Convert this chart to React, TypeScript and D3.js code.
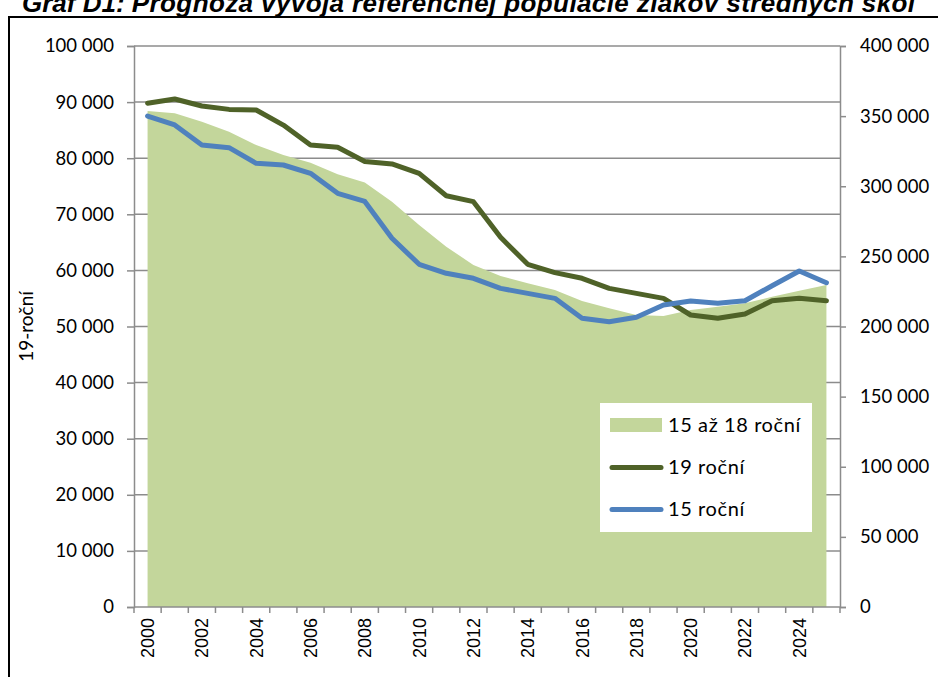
import * as d3 from 'd3';
import { useEffect, useRef } from 'react';

const years = d3.range(2000, 2026).map(String);

// 19-ročné (left axis)
const age19 = [
    89800, 90550, 89300, 88700, 88600, 85900, 82350, 81950, 79400, 78970,
    77300, 73300, 72250, 65900, 61090, 59600, 58590, 56800, 55900, 55020,
    52050, 51460, 52230, 54600, 55020, 54600,
];

// 15-ročné (left axis)
const age15 = [
    87520, 85920, 82350, 81870, 79080, 78790, 77300, 73740, 72300, 65720,
    61090, 59480, 58590, 56800, 55900, 55020, 51460, 50860, 51640, 53830,
    54550, 54130, 54600, 57270, 59890, 57800,
];

// 15 až 18-ročné (right axis)
const age15to18 = [
    353650, 352000, 346000, 338900, 329400, 322300, 316800, 308500, 302700, 289000,
    272400, 256900, 243850, 236000, 230800, 226000, 218200, 213000, 208200, 207500,
    211800, 214100, 216500, 221300, 225500, 229600,
];

const leftTicks = d3.range(0, 100001, 10000);
const rightTicks = d3.range(0, 400001, 50000);
const labelYears = years.filter((_, i) => i % 2 === 0);

const legendItems = [
    { label: '15 až 18 roční', kind: 'area', color: '#c3d69b' },
    { label: '19 roční', kind: 'line', color: '#4f6228' },
    { label: '15 roční', kind: 'line', color: '#4f81bd' },
];

const fmt = d3.formatLocale({ decimal: ',', thousands: '\u00a0', grouping: [3], currency: ['', ''] }).format(',');

export default function App() {
    const ref = useRef<SVGSVGElement | null>(null);

    useEffect(() => {
        const svg = d3.select(ref.current);
        svg.selectAll('*').remove();

        const width = 938;
        const height = 677;
        const margin = { top: 46, right: 98, bottom: 70, left: 134 };
        const font = 'Lato, "Open Sans", sans-serif';

        const x = d3.scaleBand<string>()
            .domain(years)
            .range([margin.left, width - margin.right]);
        const cx = (d: string) => x(d)! + x.bandwidth() / 2;

        const yL = d3.scaleLinear().domain([0, 100000]).range([height - margin.bottom, margin.top]);
        const yR = d3.scaleLinear().domain([0, 400000]).range([height - margin.bottom, margin.top]);

        svg.attr('width', width).attr('height', height);

        // title (its top is cut off in the source too) and frame
        const title = svg.append('text')
            .attr('x', 22)
            .attr('y', 12)
            .attr('font-family', 'Liberation Sans, Arial, sans-serif')
            .attr('font-size', 26)
            .attr('font-weight', 'bold')
            .attr('font-style', 'italic');
        title.append('tspan').text('Graf D1: ');
        title.append('tspan').attr('letter-spacing', 0.4).text('Prognóza vývoja referenčnej populácie žiakov stredných škôl');

        svg.append('path')
            .attr('d', `M9,${height} V17 H${width}`)
            .attr('fill', 'none')
            .attr('stroke', '#000')
            .attr('stroke-width', 2);

        // gridlines
        svg.append('g')
            .selectAll('line')
            .data(leftTicks.slice(1))
            .join('line')
            .attr('x1', margin.left)
            .attr('x2', width - margin.right)
            .attr('y1', d => yL(d))
            .attr('y2', d => yL(d))
            .attr('stroke', '#8c8c8c')
            .attr('stroke-width', 1.5);

        // area 15-18
        const area = d3.area<number>()
            .x((_, i) => cx(years[i]))
            .y0(yR(0))
            .y1(d => yR(d));
        svg.append('path')
            .datum(age15to18)
            .attr('fill', '#c3d69b')
            .attr('d', area);

        // lines
        const line = d3.line<number>()
            .x((_, i) => cx(years[i]))
            .y(d => yL(d));
        [[age19, '#4f6228'], [age15, '#4f81bd']].forEach(([vals, color]) => {
            svg.append('path')
                .datum(vals as number[])
                .attr('fill', 'none')
                .attr('stroke', color as string)
                .attr('stroke-width', 5)
                .attr('stroke-linejoin', 'round')
                .attr('stroke-linecap', 'round')
                .attr('d', line);
        });

        // left axis
        const gl = svg.append('g')
            .attr('transform', `translate(${margin.left},0)`)
            .call(d3.axisLeft(yL).tickValues(leftTicks).tickFormat(d => fmt(+d)).tickSize(7).tickPadding(13));

        // right axis
        const gr = svg.append('g')
            .attr('transform', `translate(${width - margin.right},0)`)
            .call(d3.axisRight(yR).tickValues(rightTicks).tickFormat(d => fmt(+d)).tickSize(6).tickPadding(14));

        [gl, gr].forEach(g => {
            g.select('.domain').attr('stroke', '#8c8c8c').attr('stroke-width', 1.5);
            g.selectAll('.tick line').attr('stroke', '#8c8c8c').attr('stroke-width', 1.5);
            g.selectAll('.tick text')
                .attr('font-family', font)
                .attr('font-size', 18.5)
                .attr('fill', '#000');
        });

        // bottom axis
        const gb = svg.append('g');
        gb.append('line')
            .attr('x1', margin.left)
            .attr('x2', width - margin.right)
            .attr('y1', yL(0))
            .attr('y2', yL(0))
            .attr('stroke', '#8c8c8c')
            .attr('stroke-width', 1.5);
        gb.selectAll('line.tk')
            .data([...years.map(d => x(d)!), width - margin.right])
            .join('line')
            .attr('class', 'tk')
            .attr('x1', d => d)
            .attr('x2', d => d)
            .attr('y1', yL(0))
            .attr('y2', yL(0) + 6)
            .attr('stroke', '#8c8c8c')
            .attr('stroke-width', 1.5);
        gb.selectAll('text')
            .data(labelYears)
            .join('text')
            .attr('transform', d => `translate(${cx(d) + 6.5},${yL(0) + 11}) rotate(-90)`)
            .attr('text-anchor', 'end')
            .attr('font-family', 'Liberation Sans, Arial, sans-serif')
            .attr('font-size', 18)
            .text(d => d);

        // y title
        svg.append('text')
            .attr('transform', `translate(33,${(yL(0) + yL(100000)) / 2}) rotate(-90)`)
            .attr('text-anchor', 'middle')
            .attr('font-family', font)
            .attr('font-size', 19)
            .text('19-roční');

        // legend
        const lg = svg.append('g').attr('transform', 'translate(600,403)');
        lg.append('rect').attr('width', 212).attr('height', 129).attr('fill', '#fff');
        legendItems.forEach((it, i) => {
            const cy = 22 + i * 42;
            if (it.kind === 'area') {
                lg.append('rect').attr('x', 10).attr('y', cy - 7).attr('width', 52).attr('height', 14).attr('fill', it.color);
            } else {
                lg.append('line')
                    .attr('x1', 12).attr('x2', 61).attr('y1', cy + 0.5).attr('y2', cy + 0.5)
                    .attr('stroke', it.color).attr('stroke-width', 5).attr('stroke-linecap', 'round');
            }
            lg.append('text')
                .attr('x', 68)
                .attr('y', cy + 7)
                .attr('font-family', font)
                .attr('font-size', 20)
                .attr('letter-spacing', 0.6)
                .text(it.label);
        });
    }, []);

    return <svg ref={ref} style={{ position: 'absolute', left: 0, top: 0 }}></svg>;
}
